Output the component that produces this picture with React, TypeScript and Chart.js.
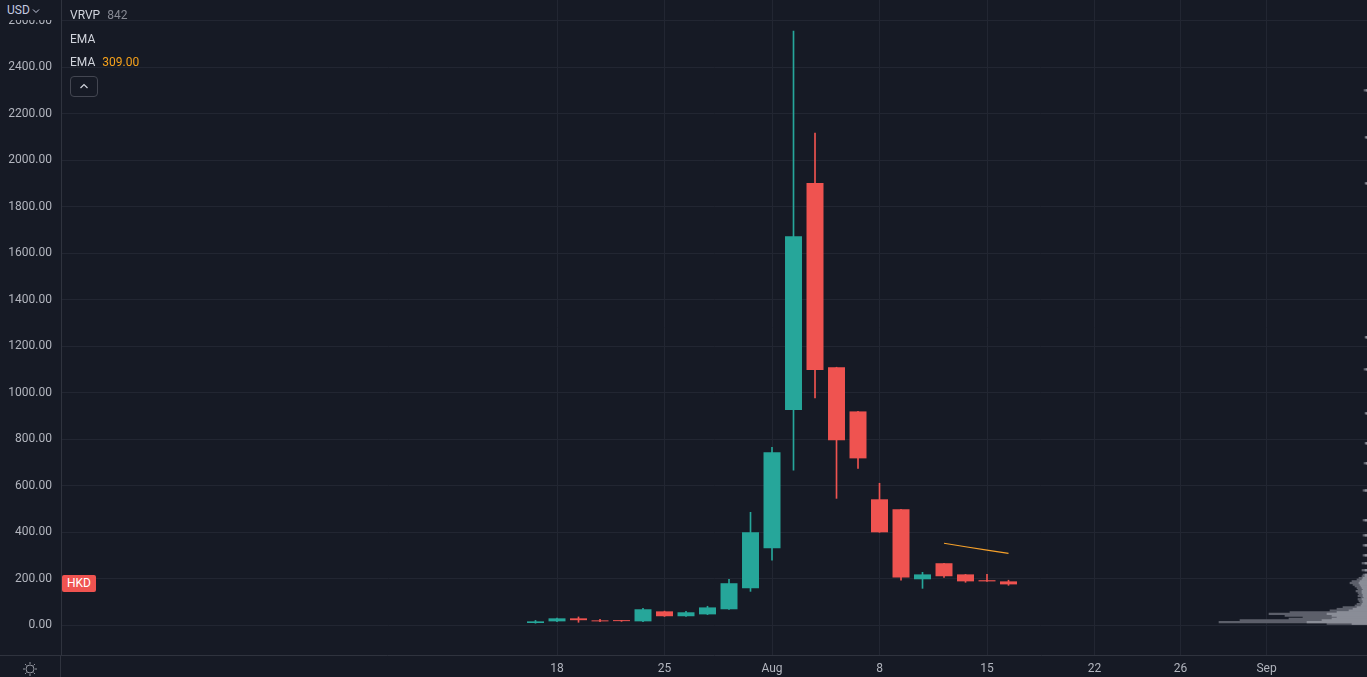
import React, { useEffect, useRef } from "react";
import { Chart, registerables } from "chart.js";

Chart.register(...registerables);

// ---------- data ----------
const dates = [
  "Jul 15", "Jul 18", "Jul 19", "Jul 20", "Jul 21", "Jul 22",
  "Jul 25", "Jul 26", "Jul 27", "Jul 28", "Jul 29",
  "Aug 1", "Aug 2", "Aug 3", "Aug 4", "Aug 5",
  "Aug 8", "Aug 9", "Aug 10", "Aug 11", "Aug 12",
  "Aug 15", "Aug 16",
];
const opens = [10, 17, 30, 21, 20, 17, 60, 39, 47, 69, 159, 331, 926, 1902, 1110, 920, 542, 499, 198, 267, 219, 194, 189];
const highs = [21, 31, 36, 26, 21, 73, 61, 60, 82, 198, 486, 765, 2556, 2117, 1110, 920, 611, 499, 228, 267, 219, 219, 194];
const lows = [9, 16, 13, 16, 17, 16, 38, 38, 46, 68, 146, 280, 667, 978, 546, 675, 400, 194, 159, 206, 185, 189, 172];
const closes = [17, 30, 22, 17, 18, 69, 39, 56, 77, 181, 400, 744, 1673, 1098, 796, 718, 400, 206, 219, 211, 189, 189, 176];

const emaIndex = [19, 20, 21, 22];
const emaValues = [353, 338, 323, 309];

const xTickIndex = [1, 6, 11, 16, 21, 26, 30, 34];
const xTickLabels = ["18", "25", "Aug", "8", "15", "22", "26", "Sep"];
const yTicks = [0, 200, 400, 600, 800, 1000, 1200, 1400, 1600, 1800, 2000, 2200, 2400, 2600];

const profilePrices = [
  7, 14, 21, 28, 35, 42, 49, 56, 63, 70, 77, 84, 91, 98, 105, 112, 119, 126, 133, 140,
  147, 154, 161, 168, 175, 182, 189, 196, 203, 210, 217,
  237, 267, 301, 344, 387, 452, 580, 697, 783, 912, 1101, 1239, 1901, 2099, 2301,
];
const profileVolumes = [
  40, 148, 127, 78, 64, 82, 98, 77, 37, 30, 24, 12, 10, 7, 8, 9, 6, 9, 8, 9,
  11, 9, 10, 12, 14, 17, 15, 10, 8, 5, 4,
  5, 5, 4, 4, 4, 4, 4, 3, 2, 2, 3, 2, 2, 2, 3,
];
const profileUpVolumes = [
  15, 60, 45, 35, 30, 35, 40, 30, 18, 14, 10, 6, 5, 4, 4, 5, 3, 4, 4, 5,
  5, 4, 5, 6, 7, 8, 7, 5, 4, 2, 2,
  2, 2, 2, 2, 2, 2, 2, 1, 1, 1, 1, 1, 1, 1, 1,
];

// ---------- style ----------
const BG = "#161a25";
const GRID = "#222632";
const BORDER = "#2f333e";
const TEXT = "#b2b5be";
const UP = "#26a69a";
const DOWN = "#ef5350";
const FONT = "Roboto, 'Noto Sans', sans-serif";

const X_MIN = -22.07;
const X_MAX = 38.674;
const Y_MIN = -127.7;
const Y_MAX = 2689.5;

const bgPlugin = {
  id: "bgFill",
  beforeDraw(chart: any) {
    const { ctx, width, height } = chart;
    ctx.save();
    ctx.fillStyle = BG;
    ctx.fillRect(0, 0, width, height);
    ctx.restore();
  },
  afterDraw(chart: any) {
    const { ctx, chartArea, height } = chart;
    ctx.save();
    ctx.strokeStyle = BORDER;
    ctx.lineWidth = 1;
    ctx.beginPath();
    const bx = Math.round(chartArea.left) - 0.5;
    ctx.moveTo(bx, chartArea.bottom);
    ctx.lineTo(bx, height);
    const by = Math.round(chartArea.bottom) + 0.5;
    ctx.moveTo(0, by);
    ctx.lineTo(chartArea.left, by);
    ctx.stroke();
    ctx.restore();
  },
};

export default function App() {
  const canvasRef = useRef<HTMLCanvasElement | null>(null);

  useEffect(() => {
    const canvas = canvasRef.current;
    if (!canvas) return;
    const colors = opens.map((o, i) => (closes[i] >= o ? UP : DOWN));

    const chart = new Chart(canvas, {
      type: "bar",
      data: {
        labels: dates,
        datasets: [
          {
            type: "line",
            label: "EMA",
            data: emaIndex.map((x, i) => ({ x, y: emaValues[i] })),
            xAxisID: "x",
            yAxisID: "y",
            borderColor: "#f5a02a",
            borderWidth: 1.2,
            pointRadius: 0,
            tension: 0,
            fill: false,
          } as any,
          {
            type: "bar",
            label: "body",
            data: opens.map((o, i) => ({ x: i, y: [o, closes[i]] })),
            xAxisID: "x",
            yAxisID: "y",
            backgroundColor: colors,
            borderWidth: 0,
            grouped: false,
            barPercentage: 0.79,
            categoryPercentage: 1,
            minBarLength: 1,
          } as any,
          {
            type: "bar",
            label: "wick",
            data: lows.map((l, i) => ({ x: i, y: [l, highs[i]] })),
            xAxisID: "x",
            yAxisID: "y",
            backgroundColor: colors,
            borderWidth: 0,
            grouped: false,
            barPercentage: 1,
            categoryPercentage: 1,
            maxBarThickness: 1,
          } as any,
          {
            type: "bar",
            label: "VRVP up",
            indexAxis: "y",
            data: profilePrices.map((p, i) => ({ x: profileUpVolumes[i], y: p })),
            xAxisID: "xv",
            yAxisID: "yv",
            backgroundColor: "#8a8d97",
            borderWidth: 0,
            grouped: false,
            barPercentage: 1,
            categoryPercentage: 1,
          } as any,
          {
            type: "bar",
            label: "VRVP",
            indexAxis: "y",
            data: profilePrices.map((p, i) => ({ x: profileVolumes[i], y: p })),
            xAxisID: "xv",
            yAxisID: "yv",
            backgroundColor: "#5c5f6a",
            borderWidth: 0,
            grouped: false,
            barPercentage: 1,
            categoryPercentage: 1,
          } as any,
        ],
      },
      options: {
        animation: false,
        responsive: false,
        maintainAspectRatio: false,
        layout: { padding: 0 },
        plugins: {
          legend: { display: false },
          tooltip: { enabled: false },
          title: { display: false },
        },
        scales: {
          x: {
            type: "linear",
            position: "bottom",
            min: X_MIN,
            max: X_MAX,
            offset: false,
            grid: { color: GRID, drawTicks: false, offset: false },
            border: { display: true, color: BORDER },
            ticks: {
              autoSkip: false,
              maxRotation: 0,
              color: TEXT,
              padding: 7,
              font: { family: FONT, size: 12 },
              callback: (v: any) => {
                const k = xTickIndex.indexOf(Number(v));
                return k >= 0 ? xTickLabels[k] : "";
              },
            },
            afterBuildTicks: (s: any) => {
              s.ticks = xTickIndex.map((v) => ({ value: v }));
            },
            afterFit: (s: any) => {
              s.height = 22;
              s.paddingLeft = 0;
              s.paddingRight = 0;
            },
          },
          y: {
            type: "linear",
            position: "left",
            min: Y_MIN,
            max: Y_MAX,
            beginAtZero: false,
            grid: { color: GRID, drawTicks: false },
            border: { display: true, color: BORDER },
            ticks: {
              color: TEXT,
              padding: 9,
              autoSkip: false,
              font: { family: FONT, size: 12 },
              callback: (v: any) => Number(v).toFixed(2),
            },
            afterBuildTicks: (s: any) => {
              s.ticks = yTicks.map((v) => ({ value: v }));
            },
            afterFit: (s: any) => {
              s.width = 61;
              s.paddingTop = 0;
              s.paddingBottom = 0;
            },
          },
          xv: {
            type: "linear",
            display: false,
            reverse: true,
            min: 0,
            max: 1306,
            offset: false,
          },
          yv: {
            type: "linear",
            display: false,
            min: Y_MIN,
            max: Y_MAX,
            offset: false,
            beginAtZero: false,
          },
        },
      } as any,
      plugins: [bgPlugin],
    });
    return () => chart.destroy();
  }, []);

  const legendText: React.CSSProperties = {
    position: "absolute",
    left: 70,
    fontFamily: FONT,
    fontSize: 12,
    color: "#d1d4dc",
    lineHeight: "16px",
    whiteSpace: "nowrap",
  };

  return (
    <div
      style={{
        position: "fixed",
        left: 0,
        top: 0,
        width: 1367,
        height: 677,
        background: BG,
        overflow: "hidden",
      }}
    >
      <canvas ref={canvasRef} width={1367} height={677} style={{ display: "block" }} />
      {/* currency header over the price axis */}
      <div
        style={{
          position: "absolute",
          left: 0,
          top: 0,
          width: 60,
          height: 20,
          background: BG,
          fontFamily: FONT,
          fontSize: 12,
          color: "#c5cbe0",
          lineHeight: "20px",
          paddingLeft: 7,
          boxSizing: "border-box",
        }}
      >
        USD
        <svg width="8" height="6" style={{ marginLeft: 2, verticalAlign: "middle" }}>
          <polyline points="1,1.5 4,4.5 7,1.5" fill="none" stroke="#c5cbe0" strokeWidth="1" />
        </svg>
      </div>
      {/* legend */}
      <div style={{ ...legendText, top: 7 }}>
        VRVP<span style={{ color: "#868993", marginLeft: 7 }}>842</span>
      </div>
      <div style={{ ...legendText, top: 31 }}>EMA</div>
      <div style={{ ...legendText, top: 54 }}>
        EMA<span style={{ color: "#f7a21b", marginLeft: 7 }}>309.00</span>
      </div>
      <div
        style={{
          position: "absolute",
          left: 70,
          top: 76,
          width: 28,
          height: 21,
          border: "1px solid #434651",
          borderRadius: 4,
          boxSizing: "border-box",
        }}
      >
        <svg width="26" height="19" style={{ display: "block" }}>
          <polyline points="9.5,11 13,7.5 16.5,11" fill="none" stroke="#d1d4dc" strokeWidth="1.2" />
        </svg>
      </div>
      {/* last-price tag */}
      <div
        style={{
          position: "absolute",
          left: 62,
          top: 575,
          width: 34,
          height: 17,
          background: DOWN,
          borderRadius: 2,
          color: "#ffffff",
          fontFamily: FONT,
          fontSize: 12,
          lineHeight: "17px",
          textAlign: "center",
        }}
      >
        HKD
      </div>
      {/* settings icon */}
      <svg
        width="18"
        height="18"
        style={{ position: "absolute", left: 21, top: 660 }}
        viewBox="0 0 18 18"
      >
        <circle cx="9" cy="9" r="4" fill="none" stroke="#9598a1" strokeWidth="1" />
        {[0, 45, 90, 135, 180, 225, 270, 315].map((a) => {
          const r = (a * Math.PI) / 180;
          return (
            <line
              key={a}
              x1={9 + Math.cos(r) * 5}
              y1={9 + Math.sin(r) * 5}
              x2={9 + Math.cos(r) * 7}
              y2={9 + Math.sin(r) * 7}
              stroke="#9598a1"
              strokeWidth="1"
            />
          );
        })}
      </svg>
    </div>
  );
}
